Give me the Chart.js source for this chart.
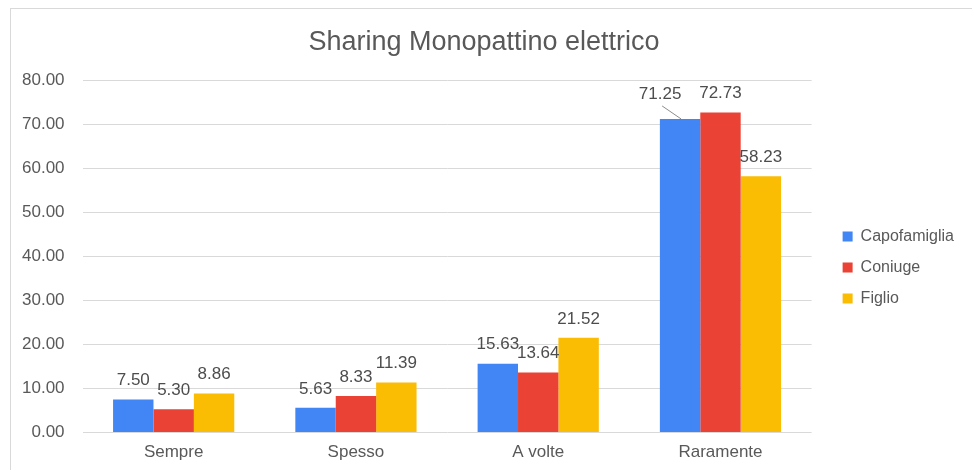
<!DOCTYPE html>
<html>
<head>
<meta charset="utf-8">
<script src="https://cdn.jsdelivr.net/npm/chart.js@4/dist/chart.umd.min.js"></script>
<style>
  html, body { margin: 0; padding: 0; background: #fff; }
  #wrap { position: relative; width: 972px; height: 470px; overflow: hidden; }
  #frame { position: absolute; left: 10px; top: 8px; width: 1000px; height: 520px;
           border-left: 1px solid #d9d9d9; border-top: 1px solid #d9d9d9; }
  canvas { position: absolute; left: 0; top: 0; }
</style>
</head>
<body>
<div id="wrap">
  <div id="frame"></div>
  <canvas id="chart" width="972" height="470"></canvas>
</div>
<script>
// data
const categories   = ['Sempre', 'Spesso', 'A volte', 'Raramente'];
const capofamiglia = [7.50, 5.63, 15.63, 71.25];
const coniuge      = [5.30, 8.33, 13.64, 72.73];
const figlio       = [8.86, 11.39, 21.52, 58.23];
const seriesNames  = ['Capofamiglia', 'Coniuge', 'Figlio'];
const seriesColors = ['#4285F4', '#EA4335', '#FBBC04'];

const FONT = '"Liberation Sans", Arial, sans-serif';
const TEXT = '#595959';

// value labels above bars, one moved aside with a leader line (like the original)
const valueLabels = {
  id: 'valueLabels',
  afterDatasetsDraw(chart, args, opts) {
    const ctx = chart.ctx;
    ctx.save();
    ctx.font = '17px ' + FONT;
    ctx.fillStyle = '#4d4d4d';
    ctx.textAlign = 'center';
    ctx.textBaseline = 'middle';
    chart.data.datasets.forEach((ds, di) => {
      chart.getDatasetMeta(di).data.forEach((bar, i) => {
        const moved = (opts.moved || []).find(m => m.dataset === di && m.index === i);
        let x = bar.x, y = bar.y - 19;
        if (moved) {
          x += moved.dx; y += moved.dy;
          ctx.strokeStyle = '#8c8c8c';
          ctx.lineWidth = 1;
          ctx.beginPath();
          ctx.moveTo(x + 2, y + 12);
          ctx.lineTo(bar.x + 1, bar.y);
          ctx.stroke();
        }
        ctx.fillText(ds.data[i].toFixed(2), x, y);
      });
    });
    ctx.restore();
  }
};

// legend sits a little away from the plot and a bit lower
const legendShift = {
  id: 'legendShift',
  afterInit(chart, args, opts) {
    const lg = chart.legend;
    if (!lg) return;
    const fit = lg.fit.bind(lg);
    lg.fit = function () { fit(); this.width += opts.gap; };
  },
  afterLayout(chart, args, opts) {
    const lg = chart.legend;
    if (!lg) return;
    lg.left += opts.gap; lg.right += opts.gap;
    lg.top += opts.down; lg.bottom += opts.down;
  }
};

const chart = new Chart(document.getElementById('chart'), {
  type: 'bar',
  data: {
    labels: categories,
    datasets: [capofamiglia, coniuge, figlio].map((d, i) => ({
      label: seriesNames[i],
      data: d,
      backgroundColor: seriesColors[i],
      borderWidth: 0,
      categoryPercentage: 0.665,
      barPercentage: 1
    }))
  },
  options: {
    responsive: false,
    animation: false,
    layout: { padding: { top: 26, left: 4, right: 8, bottom: 5 } },
    plugins: {
      title: {
        display: true,
        text: 'Sharing Monopattino elettrico',
        color: TEXT,
        font: { family: FONT, size: 27, weight: 'normal' },
        padding: { top: 0, bottom: 22 }
      },
      legend: {
        position: 'right',
        labels: {
          color: TEXT,
          font: { family: FONT, size: 16 },
          boxWidth: 10,
          boxHeight: 10,
          padding: 15
        }
      },
      tooltip: { enabled: false },
      valueLabels: { moved: [{ dataset: 0, index: 3, dx: -20, dy: -6 }] },
      legendShift: { gap: 16, down: 22 }
    },
    scales: {
      x: {
        grid: { display: false },
        border: { display: false },
        ticks: { color: TEXT, font: { family: FONT, size: 17 }, padding: 2 }
      },
      y: {
        min: 0,
        max: 80,
        grid: { color: '#d9d9d9', drawTicks: false },
        border: { display: false },
        ticks: {
          stepSize: 10,
          color: TEXT,
          font: { family: FONT, size: 17 },
          padding: 18,
          callback: v => v.toFixed(2)
        }
      }
    }
  },
  plugins: [valueLabels, legendShift]
});
</script>
</body>
</html>
